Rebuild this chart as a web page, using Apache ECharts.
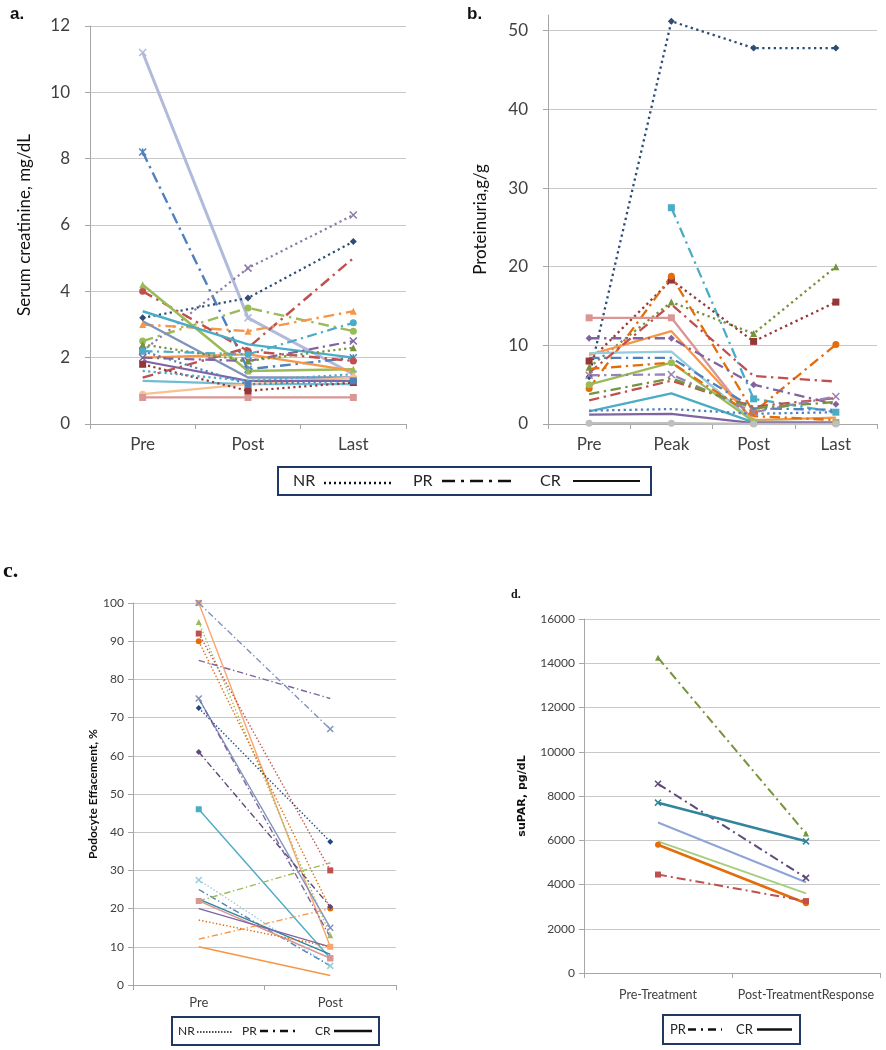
<!DOCTYPE html>
<html><head><meta charset="utf-8">
<script src="https://cdn.jsdelivr.net/npm/echarts@6/dist/echarts.min.js"></script>
<style>html,body{margin:0;padding:0;background:#fff}#c{width:886px;height:1050px}</style>
</head><body><div id="c"></div>
<script>
// ---------- categories ----------
const catsA = ['Pre', 'Post', 'Last'];
const catsB = ['Pre', 'Peak', 'Post', 'Last'];
const catsC = ['Pre', 'Post'];
const catsD = ['Pre-Treatment', 'Post-TreatmentResponse'];

// ---------- panel a: serum creatinine (Pre, Post, Last) ----------
const creatResp = ['CR','PR','NR','NR','PR','PR','PR','PR','CR','CR','CR','CR','CR','CR','CR','NR','CR','NR','PR','NR','PR','NR'];
const creatVals = [
  [11.2, 3.2, 1.5],
  [8.2, 1.65, 2.0],
  [2.2, 4.7, 6.3],
  [3.2, 3.8, 5.5],
  [1.4, 2.3, 5.0],
  [2.5, 3.5, 2.8],
  [3.0, 2.8, 3.4],
  [4.0, 2.2, 1.9],
  [4.2, 1.6, 1.65],
  [3.4, 2.4, 2.0],
  [3.1, 1.4, 1.4],
  [2.0, 2.1, 1.6],
  [1.3, 1.2, 1.2],
  [0.9, 1.2, 1.4],
  [0.8, 0.8, 0.8],
  [1.8, 1.0, 1.25],
  [1.9, 1.3, 1.3],
  [2.2, 1.2, 1.3],
  [2.0, 1.9, 2.5],
  [2.4, 1.9, 2.3],
  [2.2, 2.1, 3.05],
  [1.6, 1.3, 1.5]
];

// ---------- panel b: proteinuria (Pre, Peak, Post, Last) ----------
const protResp = ['NR','PR','NR','NR','PR','CR','CR','PR','CR','CR','CR','PR','NR','CR','CR','PR','PR','PR','PR','PR'];
const protVals = [
  [6.0, 51.2, 47.8, 47.8],
  [null, 27.5, 3.2, 1.5],
  [7.2, 15.5, 11.5, 20.0],
  [8.0, 18.3, 10.5, 15.5],
  [4.5, 18.8, 1.5, 10.1],
  [13.5, 13.5, 0.2, 0.2],
  [8.8, 11.8, 0.5, 0.8],
  [10.9, 10.9, 5.0, 2.5],
  [9.0, 9.2, 0.3, 0.2],
  [5.0, 7.8, 0.3, 0.2],
  [1.6, 3.9, 0.2, 0.2],
  [6.5, 15.2, 6.1, 5.4],
  [1.7, 1.9, 1.3, 1.5],
  [1.2, 1.3, 0.1, 0.1],
  [0.1, 0.1, 0.0, 0.0],
  [8.4, 8.4, 2.0, 1.8],
  [7.0, 7.8, 1.0, 0.5],
  [3.0, 5.5, 2.2, 3.3],
  [6.2, 6.3, 1.5, 3.5],
  [3.8, 5.8, 2.0, 2.8]
];

// ---------- panel c: podocyte effacement % (Pre, Post) ----------
const effResp = ['CR','PR','NR','NR','NR','PR','CR','NR','PR','PR','CR','NR','PR','CR','CR','CR','PR','CR','NR','PR'];
const effVals = [
  [100, 10],
  [100, 67],
  [95, 13],
  [92, 30],
  [90, 20],
  [85, 75],
  [75, 15],
  [72.5, 37.5],
  [61, 20.5],
  [75, 12.5],
  [46, 7],
  [27.5, 5],
  [25, 5],
  [22, 7],
  [22.5, 8],
  [20, 10],
  [12, 20],
  [10, 2.5],
  [17, 10],
  [22, 32]
];

// ---------- panel d: suPAR pg/dL (Pre, Post) ----------
const suparResp = ['PR','PR','CR','CR','CR','CR','PR'];
const suparVals = [
  [14250, 6300],
  [8550, 4300],
  [7700, 5950],
  [6800, 4100],
  [5950, 3600],
  [5800, 3150],
  [4450, 3250]
];

// ---------- styles (kept separate from data) ----------
const creatColors = ['#B2BADB','#4F81BD','#8C7BA8','#2C4D75','#C0504D','#9BBB59','#F79646','#C0504D','#9BBB59','#4BACC6','#7F93BC','#F79646','#6FBDD1','#FAC090','#D99694','#953735','#8064A2','#4F81BD','#8064A2','#77933C','#4BACC6','#4BACC6'];
const creatMarks  = ['x','star','x','diamond','none','circle','triangle','circle','triangle','none','none','none','none','circle','rect','rect','none','rect','x','triangle','circle','none'];
const creatWidths = [3, 2.4, 2.2, 2.2, 2.4, 2.4, 2.4, 2.4, 2.6, 2.4, 2.4, 2.4, 2.2, 2.2, 2.2, 2.2, 2.2, 2.2, 2.2, 2.2, 2.2, 2.2];
const protColors = ['#2C4D75','#4BACC6','#77933C','#953735','#E46C0A','#D99694','#F79646','#8064A2','#93CDDD','#9BBB59','#4BACC6','#C0504D','#4F81BD','#8064A2','#BFBFBF','#4F81BD','#E46C0A','#C0504D','#9983B5','#77933C'];
const protMarks  = ['diamond','rect','triangle','rect','circle','rect','none','diamond','none','circle','none','none','none','none','circle','none','none','none','x','none'];
const effColors = ['#FAA56E','#7F93BC','#9BBB59','#C0504D','#E46C0A','#8064A2','#7F93BC','#1F497D','#5F497A','#8064A2','#4BACC6','#93CDDD','#4F81BD','#D99694','#31859C','#8064A2','#F79646','#F79646','#E46C0A','#9BBB59'];
const effMarks  = ['rect','x','triangle','rect','circle','none','x','diamond','diamond','none','rect','x','none','rect','none','none','none','none','none','none'];
const suparColors = ['#77933C','#5F497A','#31859C','#8EA5D6','#A6CE7E','#E46C0A','#C0504D'];
const suparMarks  = ['triangle','x','x','none','none','circle','rect'];
const suparWidths = [2, 2, 2.6, 2, 2, 2.6, 2];

const SYM = {
  x: 'path://M0,0L10,10M10,0L0,10',
  star: 'path://M0,0L10,10M10,0L0,10M5,0L5,10',
  rect: 'rect', circle: 'circle', triangle: 'triangle', diamond: 'diamond', none: 'none'
};
function dashOf(resp, w) {
  if (resp === 'NR') return [w, w * 1.5];
  if (resp === 'PR') return [w * 4.5, w * 2, w, w * 2];
  return 'solid';
}
function mk(vals, resp, colors, marks, idx, width, size) {
  return vals.map((v, i) => {
    const w = Array.isArray(width) ? width[i] : width;
    const m = marks[i];
    const isPath = (m === 'x' || m === 'star');
    return {
      type: 'line', xAxisIndex: idx, yAxisIndex: idx, data: v,
      symbol: SYM[m], symbolSize: size, showSymbol: m !== 'none',
      lineStyle: { color: colors[i], width: w, type: dashOf(resp[i], w) },
      itemStyle: { color: colors[i], borderColor: colors[i], borderWidth: isPath ? 1.5 : 0 },
      connectNulls: false, animation: false, silent: true
    };
  });
}

const FONT = 'Lato';
const AX = '#A6A6A6', GRIDC = '#C8C8C8', LBL = '#404040';
function xAx(idx, data, fs, margin) {
  return {
    type: 'category', gridIndex: idx, data: data, boundaryGap: true,
    axisLine: { show: true, lineStyle: { color: AX, width: 1 } },
    axisTick: { show: true, length: 5, lineStyle: { color: AX } },
    axisLabel: { fontFamily: FONT, fontSize: fs, color: LBL, margin: margin, interval: 0 },
    splitLine: { show: false }
  };
}
function yAx(idx, min, max, interval, fs, margin, name, nameGap, nameStyle) {
  return {
    type: 'value', gridIndex: idx, min: min, max: max, interval: interval,
    axisLine: { show: true, lineStyle: { color: AX, width: 1 } },
    axisTick: { show: true, length: 5, lineStyle: { color: AX } },
    axisLabel: { fontFamily: FONT, fontSize: fs, color: LBL, margin: margin,
                 showMaxLabel: max % interval === 0, formatter: v => String(v) },
    splitLine: { show: true, showMaxLine: max % interval === 0, lineStyle: { color: GRIDC, width: 1 } },
    name: name, nameLocation: 'middle', nameGap: nameGap, nameTextStyle: nameStyle
  };
}

function legendBox(x, y, w, h, items, fs) {
  const els = [{ type: 'rect', shape: { x: x, y: y, width: w, height: h }, style: { fill: 'none', stroke: '#1F3864', lineWidth: 2 } }];
  const cy = y + h / 2;
  items.forEach(it => {
    els.push({ type: 'text', x: it.tx, y: cy, style: { text: it.label, font: fs + 'px ' + FONT, fill: '#262626', textVerticalAlign: 'middle' } });
    els.push({ type: 'line', shape: { x1: it.x1, y1: cy + (it.dy || 0), x2: it.x2, y2: cy + (it.dy || 0) }, style: { stroke: '#111', lineWidth: it.lw, lineDash: it.dash } });
  });
  return els;
}

const chart = echarts.init(document.getElementById('c'), null, { renderer: 'canvas' });
chart.setOption({
  backgroundColor: '#fff',
  animation: false,
  grid: [
    { left: 90, top: 26, width: 316, height: 398 },
    { left: 548, top: 15, width: 329, height: 409 },
    { left: 133, top: 603, width: 263, height: 382 },
    { left: 584, top: 619, width: 296, height: 354 }
  ],
  xAxis: [
    xAx(0, catsA, 17, 12),
    xAx(1, catsB, 17, 12),
    xAx(2, catsC, 13, 11),
    xAx(3, catsD, 12.5, 15)
  ],
  yAxis: [
    yAx(0, 0, 12, 2, 17, 20, 'Serum creatinine, mg/dL', 57, { fontFamily: FONT, fontSize: 17, color: '#111' }),
    yAx(1, 0, 52, 10, 17, 20, 'Proteinuria,g/g', 59, { fontFamily: FONT, fontSize: 17, color: '#111' }),
    yAx(2, 0, 100, 10, 12, 9, 'Podocyte Effacement, %', 34, { fontFamily: FONT, fontSize: 12, fontWeight: 'bold', color: '#111' }),
    yAx(3, 0, 16000, 2000, 12, 9, 'suPAR, pg/dL', 56, { fontFamily: 'DejaVu Sans', fontSize: 11, fontWeight: 'bold', color: '#111' })
  ],
  series: [].concat(
    mk(creatVals, creatResp, creatColors, creatMarks, 0, creatWidths, 7),
    mk(protVals, protResp, protColors, protMarks, 1, 2.3, 7),
    mk(effVals, effResp, effColors, effMarks, 2, 1.4, 6),
    mk(suparVals, suparResp, suparColors, suparMarks, 3, suparWidths, 6)
  ),
  graphic: [].concat(
    [
      { type: 'text', x: 10, y: 6, style: { text: 'a.', font: 'bold 17px "Liberation Sans"', fill: '#111' } },
      { type: 'text', x: 467, y: 6, style: { text: 'b.', font: 'bold 17px "Liberation Sans"', fill: '#111' } },
      { type: 'text', x: 3, y: 560, style: { text: 'c.', font: 'bold 22px "Liberation Serif"', fill: '#111' } },
      { type: 'text', x: 511, y: 589, style: { text: 'd.', font: 'bold 12px "Liberation Serif"', fill: '#111' } }
    ],
    legendBox(278, 467, 373, 28, [
      { label: 'NR', tx: 293, x1: 324, x2: 391, lw: 2.5, dash: [2, 3], dy: 2 },
      { label: 'PR', tx: 413, x1: 442, x2: 512, lw: 2.5, dash: [13, 6, 3, 6] },
      { label: 'CR', tx: 540, x1: 573, x2: 640, lw: 2, dash: null }
    ], 16),
    legendBox(172, 1017, 207, 28, [
      { label: 'NR', tx: 178, x1: 197, x2: 233, lw: 1.5, dash: [1.5, 1.5], dy: 1 },
      { label: 'PR', tx: 242, x1: 260, x2: 300, lw: 2.5, dash: [8, 5, 2, 5] },
      { label: 'CR', tx: 315, x1: 334, x2: 372, lw: 2.5, dash: null }
    ], 12),
    legendBox(663, 1015, 137, 29, [
      { label: 'PR', tx: 670, x1: 688, x2: 722, lw: 2.5, dash: [8, 5, 2, 5] },
      { label: 'CR', tx: 736, x1: 757, x2: 792, lw: 2.5, dash: null }
    ], 13)
  )
});
</script>
</body></html>
